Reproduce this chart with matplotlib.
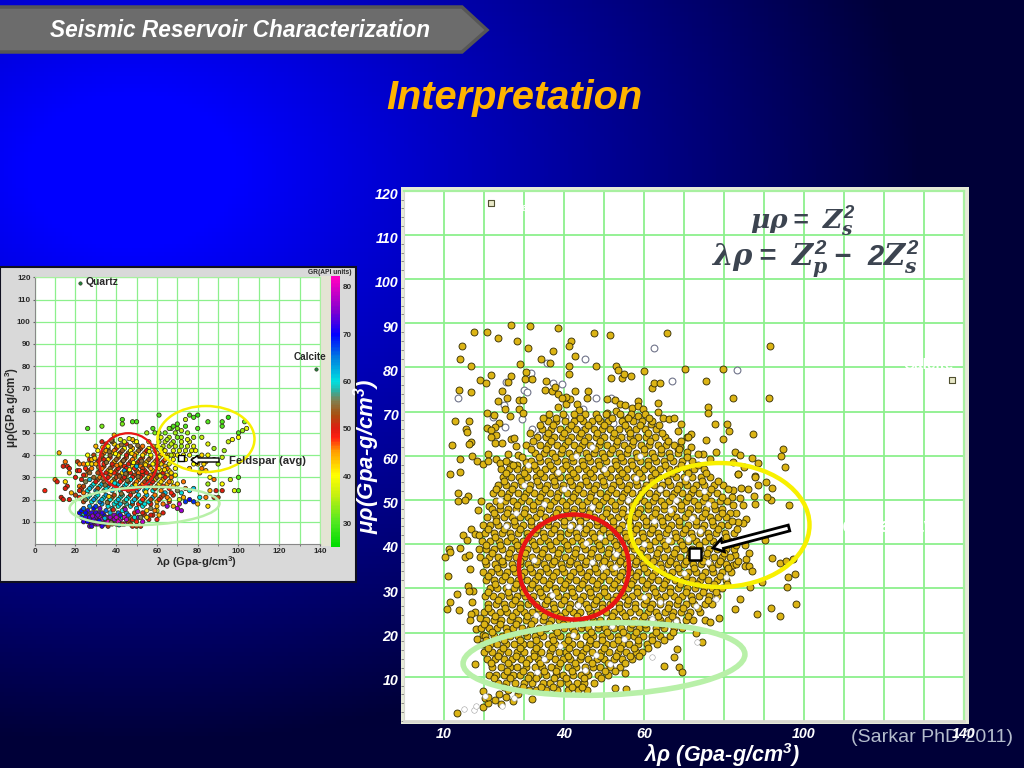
import numpy as np
import matplotlib
matplotlib.use('Agg')
from matplotlib import pyplot as plt
from matplotlib.colors import LinearSegmentedColormap, Normalize
from matplotlib.patches import Ellipse, Polygon, Rectangle, FancyArrow
from matplotlib.transforms import ScaledTranslation

plt.rcParams['font.family'] = ['Liberation Sans', 'DejaVu Sans']
plt.rcParams['mathtext.fontset'] = 'custom'
plt.rcParams['mathtext.rm'] = 'Liberation Sans:italic:bold'
plt.rcParams['mathtext.bf'] = 'Liberation Sans:bold'
plt.rcParams['mathtext.it'] = 'DejaVu Serif:italic:bold'

# big plot, scattered points read one by one (lambda-rho, mu-rho)
top_points = [(17.5,88),(20.7,88),(23.4,86.7),(26.8,89.6),(31.5,89.3),(38.4,89),(47.5,87.8),(51.5,87.4),(65.8,87.8),
    (14.5,84.8),(13.9,82),(16.8,80.4),(28.3,86),(30.9,84.3),(37.3,83.7),(41.7,85.9),(41.2,84.9),(42.7,82.6),(34.3,81.9),
    (36.5,81.1),(41.2,80.3),(41.2,78.6),(47.9,80.4),(52.9,80.4),(53.4,79.5),(60.1,79.2),(70.2,79.6),(29.1,80.7),(30.5,79),
    (30.2,77.3),(32.1,77.3),(26.8,78.1),(21.7,78.3),(19.1,77.2),(20.5,76.4),(13.7,75),(16.8,74.4),(24.4,74.7),(25.9,76.6),
    (51.8,77.6),(54.5,77.6),(55,78.5),(56.8,78.1),(61.9,75.4),(62.6,76.4),(63.9,76.4),(35.6,77),(35.2,75),(37,74.7),(37.8,75.5),
    (38.6,74.1),(42.8,74.7),(46.1,74.7),(45.7,73),(23.6,72.4),(25.8,73.1),(28.7,72.7),(29.7,72.7),(25.2,70.5),(28.7,70.5),
    (29.7,69.6),(26.4,69),(20.8,69.6),(22.5,69.2),(12.7,67.8),(16.2,67.8),(23.7,67.4),(20.8,66.4),(22.7,66.6),(15.4,66),
    (15.8,65.3),(16.8,63.1),(16.2,62.6),(11.9,62.4),(14.1,59.3),(17,60),(18.2,58.9),(19.7,58.2),(11.4,55.8),(14.1,56.4),
    (21.8,65.8),(22.9,64.7),(21.7,64.3),(22.7,62.8),(24.4,63),(26.7,63.7),(27.6,64.1),(28,62.2),(25.9,60.5),(28.4,60.1),
    (21.1,60.5),(23,59.2),(21.1,58.9),(24,58.4),(26.5,58.2),(28.2,58),(30.4,58.6),(30.2,57),
    (38.6,71.1),(40.4,71.8),(41.5,72.8),(40.4,73.3),(39.4,73),(43.3,71.7),(43.7,70.3),(50.8,72.8),(52.7,72.6),(54,71.8),
    (55.2,71.4),(56.9,70.8),(58.4,72.4),(58.4,71.2),(59.7,70.6),(63.6,71.9),(63.4,69.9),(64.8,68.5),(66.2,68.4),(67.5,68.5),
    (69.2,67.2),(68.6,65.6),(70.8,64.3),(53,70.1),(50.8,69.6),(55,68.2),(56.3,68.7),(58.4,69),(61.7,67.3)]
right_points = [(91.5,84.9),(79.8,79.6),(75.6,76.9),(82.2,73),(91.3,73.1),(75.9,71.1),(75.9,69.8),(77.7,67.2),(80.7,67.2),
    (81.3,65.6),(87.3,65),(71.8,65),(71.1,64.3),(75.6,63.6),(79.7,63.9),(94.8,61.6),(94.3,59.9),(95.2,57.5),(82.7,60.9),(84,60.1),
    (86.9,59.4),(88.6,58.4),(85.1,57.5),(82.3,58.6),(83.4,55.8),(87.7,55.5),(77.9,60.9),(76.5,59.2),(74.8,60.4),(73.6,60.5),
    (71.7,62),(69,62),(68.6,61.6),(70.7,60.9),(96.3,48.9),(92,36.9),(94,35.7),(95.5,36.2),(97.3,36.6),(97.7,33.3),(96.1,32.5),
    (95.8,30.4),(98.1,26.5),(91.8,25.5),(94,23.7),(88.3,24.3),(89.6,31.5),(86.4,30.4),(82.7,25.4),(83.9,27.6),(78.7,23.4),(75.3,22.8),
    (76.5,22.4),(74.6,17.8),(73,19.8),(68.2,16.2),(67.6,14.4),(65,12.4),(68.8,12.3),(69.6,11),(85.5,36.6),(86.2,37.9),(85.2,35.1),
    (86.3,35),(86.9,33.9),(82.7,37.5),(82.3,35.3),(80.7,35),(90.3,40.9),(85.3,39.8),(87.7,49.2),(91.7,50.1),(90.7,50.7),(91.9,52.6),
    (90.5,54),(88.4,53.4),(87.7,55.3),(87.5,50.9),(85.9,52.4),(84.2,52.6),(84,50.5),(84.8,48.9),(85.4,45.8),(84.8,44.7),(83.6,45.1),
    (82.9,47),(81.5,47.1),(81.9,50.7),(82.2,52.3),(83.4,55.9)]
left_points = [(13.5,51.5),(16.1,50.9),(13.5,49.8),(15.2,50),(19.2,49.8),(18.6,47.7),(21.3,48.6),(16.8,43.4),(14.7,42.1),(15.8,41),
    (17.8,42.3),(18.7,42.1),(13.9,39.2),(11.2,38.8),(11.5,38.2),(10.3,37.1),(15.2,37),(16.2,37.6),(16.5,34.3),(11,32.9),(16.1,30.5),
    (17.3,29.5),(16.2,29.5),(13.2,28.8),(16.9,27),(11.6,27),(10.7,25.4),(13.7,25.2),(17.8,24.6),(16.7,24.3),(16.5,22.8),(19,23.4),
    (20.2,22),(17.9,20.9),(19.7,19.4),(18.2,18.5),(17.7,12.8),(19.7,6.8),(13.2,1.9),(19.8,3.2),(21.1,4),(20.3,5.1),(22.7,4.7),
    (27.2,4.6),(32,4.9),(21,5.3),(52.7,7.4),(55.5,7.3),(55.2,10.9),(23.7,6),(25.5,5.5),(28.5,6.2),(24.2,3.9)]

# dense part of the cloud, row by row: (mu-rho, [lambda-rho ...])
lower_rows = [
    (6.9, [26.1,28.4,31.2,33,35.6,38.3,40.9,43.4,45.7]),
    (8.6, [23.6,25.4,27.8,29.9,32.1,34.7,36.4,38.9,41,43.3,45.1,47.6]),
    (10.4, [21.2,23.1,25,27.3,29.1,31.4,33.6,35.5,37.9,39.7,42.2,44.3,46,48.4,50.9]),
    (12.1, [22,24.2,26.4,28.2,30.5,32.7,34.4,36.8,38.6,40.9,43,45.2,47.3,49.1,51.6,53.9]),
    (13.9, [20.8,22.7,24.9,27.1,29.3,31.2,33.4,35.6,37.7,39.8,41.6,43.9,46.1,48.2,50,52.4,54.6,57.1]),
    (15.6, [20.1,22,24.1,26,28.3,30.1,32.5,34.3,36.6,38.7,40.5,42.9,44.8,47,49.2,51.3,53.5,55.4,57.9,59.5]),
    (17.4, [19.4,21.5,23.3,25.6,27.4,29.7,31.6,33.7,35.9,37.8,40,42.1,44,46.3,48.1,50.4,52.2,54.5,56.3,58.6,60.7,63.2]),
    (19.2, [20.3,22.4,24.4,26.5,28.6,30.7,32.8,34.8,36.9,39.1,41.2,43.1,45.4,47.3,49.5,51.6,53.4,55.7,57.5,59.8,61.9,64,66.4]),
    (21, [19.2,21.3,23.2,25.4,27.3,29.5,31.5,33.7,35.6,37.8,39.9,42,44.2,46,48.4,50.3,52.5,54.3,56.6,58.7,60.6,62.9,65.1,67.5,69.4]),
    (22.8, [20.4,22.5,24.3,26.4,28.5,30.6,32.4,34.7,36.7,38.8,40.8,43,45,47.2,49.1,51.4,53.3,55.5,57.6,59.5,61.8,63.9,66,68.1,70.6,72.3]),
    (24.6, [20,21.8,23.9,25.7,27.9,29.9,32,33.9,36,38.1,40.2,42.3,44.1,46.4,48.3,50.5,52.4,54.6,56.5,58.8,60.9,63,65.2,67.2,69.3,71.5,74]),
    (26.4, [20.9,23,25,27,29,31.1,33.1,35.2,37.2,39.3,41.4,43.4,45.5,47.5,49.6,51.5,53.7,55.7,57.8,59.9,62,64.1,66.2,68.3,70.4,72.6,75.2,77]),
    (28.2, [20.3,22.2,24.2,26.2,28.2,30.3,32.3,34.4,36.4,38.5,40.6,42.6,44.7,46.7,48.8,50.8,52.9,54.9,57,59.1,61.1,63.2,65.3,67.4,69.5,71.7,73.8,76.2,78.3]),
]
middle_rows = [
    (30, [21.4,23.3,25.4,27.4,29.5,31.5,33.6,35.6,37.7,39.7,41.8,43.8,45.9,47.9,50,52,54.1,56.1,58.2,60.2,62.3,64.4,66.5,68.6,70.7,72.8,75,77.1,79.4]),
    (31.8, [20.4,22.5,24.5,26.6,28.6,30.7,32.7,34.8,36.8,38.9,40.9,43,45,47.1,49.1,51.2,53.2,55.3,57.3,59.4,61.5,63.5,65.6,67.7,69.8,71.9,74,76.1,78.3,80.4]),
    (33.6, [19.7,21.7,23.7,25.8,27.8,29.9,31.9,34,36,38.1,40.1,42.2,44.2,46.3,48.3,50.4,52.4,54.5,56.5,58.6,60.7,62.7,64.8,66.9,69,71,73.1,75.2,77.3,79.5,81.7]),
    (35.4, [20.6,22.8,24.8,26.9,28.9,31,33,35.1,37.1,39.2,41.2,43.3,45.3,47.4,49.4,51.5,53.5,55.6,57.7,59.7,61.8,63.9,65.9,68,70.1,72.2,74.3,76.4,78.5,80.6,83]),
    (37.2, [19,21.2,23.4,25.9,27.9,30,32,34.1,36.1,38.2,40.2,42.3,44.3,46.4,48.4,50.5,52.6,54.6,56.7,58.7,60.8,62.9,64.9,67,69.1,71.2,73.3,75.4,77.5,79.6,81.6]),
    (39, [18.7,20.6,22.5,24.6,26.7,28.8,30.8,32.9,34.9,37,39,41.1,43.1,45.2,47.2,49.3,51.3,53.4,55.4,57.5,59.6,61.6,63.7,65.8,67.9,69.9,72,74.1,76.2,78.3,80.4,82.6]),
    (40.8, [19.5,21.6,23.7,25.7,27.8,29.8,31.9,33.9,36,38,40.1,42.1,44.2,46.2,48.3,50.3,52.4,54.4,56.5,58.5,60.6,62.7,64.8,66.8,68.9,71,73.1,75.2,77.3,79.4,81.2]),
    (42.6, [20.2,22.5,24.5,26.6,28.6,30.7,32.7,34.8,36.8,38.9,40.9,43,45,47.1,49.1,51.2,53.2,55.3,57.3,59.4,61.5,63.5,65.6,67.7,69.8,71.8,73.9,76,78.1,80.2,82.4]),
    (44.4, [19.8,21.6,23.6,25.7,27.7,29.8,31.8,33.9,35.9,38,40,42.1,44.1,46.2,48.2,50.3,52.3,54.4,56.4,58.5,60.6,62.6,64.7,66.8,68.8,70.9,73,75.1,77.2,79.3,81.1]),
    (46.2, [20.8,22.9,24.9,27,29,31.1,33.1,35.2,37.2,39.3,41.3,43.4,45.4,47.5,49.5,51.6,53.6,55.7,57.8,59.8,61.9,64,66,68.1,70.2,72.3,74.4,76.5,78.6,80.5]),
    (48, [22,24,26.1,28.1,30.2,32.2,34.3,36.3,38.4,40.4,42.5,44.5,46.6,48.6,50.7,52.7,54.8,56.9,58.9,61,63.1,65.1,67.2,69.3,71.4,73.5,75.6,77.7,79.6]),
    (49.8, [23.1,25.2,27.2,29.3,31.3,33.4,35.4,37.5,39.5,41.6,43.6,45.7,47.7,49.8,51.8,53.9,56,58,60.1,62.2,64.2,66.3,68.4,70.5,72.6,74.7,76.8,78.9,80.7]),
]
upper_rows = [
    (51.6, [22.2,24.3,26.3,28.4,30.4,32.5,34.5,36.6,38.6,40.7,42.7,44.8,46.8,48.9,51,53,55.1,57.1,59.2,61.3,63.3,65.4,67.5,69.6,71.7,73.8,75.9,78.2]),
    (53.4, [23.4,25.5,27.5,29.6,31.6,33.7,35.7,37.8,39.8,41.9,43.9,46,48,50.1,52.2,54.2,56.3,58.3,60.4,62.5,64.5,66.6,68.7,70.8,72.9,75,77.4,79.8]),
    (55.2, [24.7,26.7,28.8,30.8,32.9,34.9,37,39,41.1,43.1,45.2,47.2,49.3,51.4,53.4,55.5,57.5,59.6,61.7,63.7,65.8,67.9,70,72.1,74.2,76.6]),
    (57, [24.2,26.2,28.3,30.9,33.1,35.2,37.3,39.4,41.4,43.5,45.5,47.6,49.7,51.7,53.8,55.8,57.9,60,62,64.1,66.2,68.3,70.4,72.6,75.1]),
    (58.8, [25.4,31.8,34,36.1,38.2,40.3,42.3,44.4,46.5,48.5,50.6,52.7,54.7,56.8,58.9,60.9,63,65.1,67.2,69.4,71.9]),
    (60.6, [32.8,35,37.1,39.2,41.3,43.3,45.4,47.5,49.6,51.6,53.7,55.8,57.9,60,62.1,64.2,66.3,68.6]),
    (62.4, [30.5,33.9,36.1,38.2,40.3,42.4,44.5,46.6,48.7,50.8,52.9,55,57.1,59.2,61.3,63.4,65.6,67.5]),
    (64.2, [33.2,35.4,37.4,39.5,41.7,43.8,45.9,48,50.1,52.2,54.3,56.4,58.5,60.6,62.7,65.3]),
    (66, [34.6,36.7,38.9,41,43.1,45.2,47.4,49.5,51.5,53.7,56,58.1,60.3,62.9]),
    (67.8, [35.9,38,40.2,42.6,44.7,46.9,49,50.9,54.4,57.2,59.4,62.1]),
    (69.4, [36.3,39.7,42.5,45.2,47.9,50.6,53.9,56.7,60.2]),
]
# points that sit between those rows
infill_low = [
    (7.7, [24.9,29.7,34.3,37.2,42.1,44.6]),
    (9.6, [22.4,26.6,30.9,33.1,37.6,40.4,44.9,49.2]),
    (11.2, [25.8,29.8,34.9,38,41.9,45.6,50.2,52.7]),
    (13, [21.7,26,30.4,34.1,38.9,42.7,47.1,51,55.3]),
    (14.8, [23.5,28,32.6,36.2,40.9,44.3,49,53,56.6,58.8]),
    (16.5, [21,24.8,29,33,36.9,41.3,45.5,49.9,53.9,57.4,61]),
    (18.3, [20.6,25,28.9,32.9,37.2,41.1,46.4,49.5,53.5,58.4,62.1,65.1]),
    (20.1, [21.9,25.8,30.2,34,38.2,42.6,46.7,50.7,54.8,58,62.9,67.2]),
    (21.9, [20,24,28,31.7,36.3,39.8,44.4,48.5,52.1,56.9,60.2,64.5,68.3]),
    (23.7, [22.7,26.9,30.8,35.1,38.9,43.3,47.1,51.9,55.2,59.9,63.5,67.1,71]),
    (25.5, [21.1,25.3,29,33.4,37.6,41.2,45.9,49.4,53.8,57.7,61.6,66,69.8,73.4]),
    (27.3, [23.6,27.7,31.8,35.7,40,43.9,48.1,52.3,55.9,60.4,64,68.4,72,75.9]),
    (29.1, [21,25.9,29.7,34,37.9,42.1,46.4,50.1,54.6,58.3,62.7,66.6,70.6,74.8,78]),
]
infill_mid = [
    (30.9, [22.8,27.9,32,36.2,40.3,44.5,48.2,52.6,56.8,60.7,64.9,68.9,73.2,77.6,80.8]),
    (32.7, [21,25.2,29.3,33.5,37.3,41.6,45.7,49.8,53.9,58,62.1,66.2,70.4,74.6,79]),
    (34.5, [23.2,27.3,31.4,35.4,39.6,43.7,47.8,52,56,60.1,64.3,68.4,72.6,76.9,81]),
    (36.3, [20.3,24.5,29,33.2,37.5,41.5,45.6,49.9,53.9,58.1,62.3,66.4,70.6,74.8,79.1,83.5]),
    (38.1, [22,26.2,30.3,34.5,38.6,42.7,46.8,51,55,59.1,63.2,67.4,71.6,75.7,80]),
    (39.9, [20.4,24.1,28.3,32.4,36.6,40.7,44.7,48.8,53,57.1,61.2,65.3,69.5,73.7,77.9,83.1]),
    (41.7, [22.8,26.8,31,35.1,39.1,43.3,47.4,51.5,55.6,59.7,63.8,68,72.1,76.3,80.5]),
    (43.5, [21,25,29.1,33.2,37.4,41.4,45.5,49.7,53.7,57.9,62,66.1,70.3,74.4,78.6,83.2]),
    (45.3, [23.1,27.6,31.7,35.9,39.9,44,48.2,52.3,56.3,60.5,64.6,68.8,72.9,77.1,81.9]),
    (47.1, [22.4,25.7,29.9,34,38.1,42.2,46.3,50.4,54.5,58.6,62.7,66.8,71,75.2,79.5]),
    (48.9, [24.1,28.2,32.3,36.4,40.5,44.6,48.7,52.8,56.9,61,65.1,69.3,73.4,77.5,82.2]),
    (50.7, [25.8,30,34.1,38.2,42.3,46.4,50.5,54.6,58.7,62.8,66.9,71,75.2,79.6]),
]
infill_up = [
    (52.5, [23,27.1,31.2,35.3,39.4,43.5,47.6,51.7,55.8,59.9,64,68.2,72.3,76.7,81]),
    (54.3, [24.9,29.2,33.3,37.4,41.5,45.6,49.7,53.8,57.9,62,66.1,70.2,74.4,78.5]),
    (56.1, [25.5,30,34.1,38.2,42.3,46.4,50.5,54.6,58.7,62.8,67,71.1,75.6]),
    (57.9, [27.3,32.4,36.5,40.6,44.7,48.8,52.9,57,61.1,65.2,69.3,73.6]),
    (59.7, [29.5,33.7,37.8,41.9,46,50.1,54.2,58.3,62.4,66.5,70.8]),
    (61.5, [31.8,35.5,39.6,43.7,47.8,51.9,56,60.1,64.3,68.7]),
    (63.3, [32.2,36.8,40.9,45,49.1,53.2,57.3,61.4,66.1,69.3]),
    (65.1, [31.6,35.9,40.1,44.2,48.3,52.4,56.5,60.9,64.4]),
    (66.9, [33.9,37.2,41.8,45.9,50,55.3,58.9,63.8]),
    (68.6, [34.8,37.9,44,48.4,52,56,61.2]),
]
white_points = [(13.4,73),(25.6,76.7),(31.8,78.8),(35.7,81),(37.2,76.4),(39.6,76.3),(45.2,81.9),(62.5,84.5),(67,77),(83.2,79.4),
    (47.9,73.1),(51.8,73.1),(29.9,74.8),(30.7,74.5),(25.1,71.6),(22.2,68.7),(25.2,66.5),(29.5,68.3),(44.7,70.5),(40.2,68.7),(50.8,68.5),
    (52.3,67.5),(32,66),(33.7,64.7),(36.5,63.7),(55.7,64.3),(58.1,64),(44.8,65.8),(49.4,64.7),(43.6,26.2),(32.6,36.4),(52.7,34.9),(49.8,34.9),
    (46.9,36),(41.5,44),(43.7,43.8),(45.5,40.2),(49,41.7),(53,37.7),(42.3,19.4),(33.2,11),(45.2,11.5),(51.5,12.9),(62,14.5),(73.3,17.9),
    (80.6,32.6),(15,2.8),(17.5,2.5),(18,3.4),(24.5,3.3),(27.4,5.2),(20.3,5.6),(76,36),(72,46),(68,50),(75,52),(66,41),(62.5,45.2),(70,33.5),
    (64,27),(58,22.4),(55,18.6),(60,28),(38.5,56.4),(43,60),(28,47),(25.4,44.2),(24,50),(30,53.4),(35,49),(40,52.5),(50,57),(56,50),(47,48.5),
    (78,27.7),(71,41.2),(74,43),(33,24),(37,28.5),(26,30.5),(60,40),(63,34.5),(66.5,47.7),(70.5,55),(64,52.5),(58,55),(59,60),(47,62),(31,58),
    (56,44),(76,49),(62,23),(52,21.5),(48,15),(68,22.6),(73,26),(39,17),(35,14)]
feldspar_main = (72.75, 37.8)
quartz_main = (21.75, 117.2)
calcite_main = (137, 77.2)

main_x_ticks = [0,10,20,30,40,50,60,70,80,90,100,110,120,130,140]
main_x_labels = ['','10','','','40','','60','','','','100','','','','140']
main_y_ticks = [10,20,30,40,50,60,70,80,90,100,110,120]

# small plot, points as (lambda-rho, mu-rho, GR)
low_band = [(26,13,72),(28,11,70),(30,9,76),(27,10,71),(24,13,60),(25,11,70),(29,13,72),(31,11,75),(33,9,74),(32,12,78),(35,10,76),
    (34,13,70),(36,8,52),(38,11,78),(40,9,76),(37,14,62),(39,13,75),(42,11,78),(44,9,80),(41,14,66),(43,12,60),(46,10,52),(48,8,50),
    (45,14,64),(47,12,56),(50,10,48),(52,8,50),(49,14,50),(51,12,76),(53,10,78),(54,13,52),(56,11,50),(55,15,42),(58,13,50),(60,11,48),
    (57,16,56),(60,15,38),(63,14,50),(65,17,76),(70,16,78),(71,18,80),(72,15,76),(68,17,44),(74,19,68),(76,20,70),(78,19,68),(80,18,44),
    (85,17,42),(22,14,70),(23,12,68),(26,15,72),(29,16,70),(32,16,74),(35,15,66),(38,16,62),(41,17,60),(44,16,54),(47,17,60),(50,16,62),
    (53,17,60),(24,10,72),(27,8,74),(30,12,74),(33,14,72),(36,12,76),(43,15,60),(28,14,72),(25,14,70),(31,14,73)]
low_extra = [(23,15,70),(25,12,72),(26,10,70),(27,12,72),(28,9,72),(29,10,74),(30,14,72),(31,9,76),(32,10,78),(33,11,76),(34,9,70),(35,12,78),
    (36,10,80),(37,12,76),(38,9,50),(39,11,76),(40,12,78),(41,10,80),(42,13,72),(43,9,50),(44,12,80),(45,11,78),(46,13,66),(47,9,52),(48,11,50),
    (49,12,60),(50,8,52),(52,12,56),(53,14,50),(55,12,42),(57,13,50),(59,15,46),(61,13,44),(24,16,66),(27,17,64),(30,17,68),(33,18,64),(36,17,60),
    (39,18,60),(42,18,62),(45,18,58),(48,18,52),(51,18,48),(54,18,60),(57,18,50),(60,17,44),(63,18,46),(66,19,50),(29,11,73),(31,13,74),(28,8,72),
    (30,10,75),(33,8,72)]
mid_band = [(22,21,48),(24,19,52),(26,21,60),(28,19,60),(30,21,62),(32,19,66),(34,21,60),(36,19,62),(38,21,54),(40,19,60),(42,21,60),
    (44,19,56),(46,21,60),(48,19,62),(50,21,52),(52,19,60),(54,21,46),(56,19,60),(58,21,62),(60,19,44),(62,21,48),(64,23,62),(66,20,42),
    (68,22,50),(70,24,56),(72,23,60),(74,25,46),(76,24,60),(78,25,62),(26,24,60),(28,26,62),(30,24,64),(32,26,60),(34,24,56),(36,26,62),
    (38,24,62),(40,26,50),(42,24,60),(44,26,62),(46,24,52),(48,26,60),(50,24,64),(52,26,48),(54,24,62),(56,26,50),(58,24,60),(60,26,54),
    (62,24,46),(66,25,48),(24,23,46),(23,25,50),(25,28,56),(27,29,62),(68,26,44),(71,20,36),(73,21,44),(81,21,60),(84,21,46),(88,21,52),(86,24,44)]
mid_extra = [(25,20,56),(27,22,60),(29,20,64),(31,22,60),(33,20,62),(35,22,64),(37,20,60),(39,22,52),(41,20,62),(43,22,58),(45,20,60),(47,22,50),
    (49,20,62),(51,22,60),(53,20,48),(55,22,62),(57,20,52),(59,22,46),(61,20,50),(63,22,52),(65,21,46),(67,23,48),(27,25,62),(29,27,60),(31,25,52),
    (33,27,62),(35,25,60),(37,27,50),(39,25,60),(41,27,62),(43,25,54),(45,27,60),(47,25,62),(49,27,52),(51,25,60),(53,27,46),(55,25,60),(57,27,48),
    (59,25,52),(61,27,42),(63,26,48),(65,27,44),(67,28,40),(70,27,42),(73,28,46),(24,26,52),(22,24,50),(20,22,52)]
core_band = [(30,28,50),(32,30,46),(34,28,54),(36,30,50),(38,28,44),(40,30,52),(42,28,48),(44,30,50),(46,28,54),(48,30,49),(50,28,46),
    (52,30,50),(54,28,52),(56,30,44),(58,28,50),(60,30,54),(62,28,42),(64,30,50),(66,28,46),(31,32,52),(33,34,46),(35,32,50),(37,34,54),
    (39,32,48),(41,34,50),(43,32,42),(45,34,49),(47,32,50),(49,34,48),(51,32,46),(53,34,52),(55,32,50),(57,34,44),(59,32,54),(61,34,42),
    (63,32,50),(65,34,46),(67,32,42),(69,34,40),(30,36,44),(32,38,54),(34,36,48),(36,38,42),(38,36,50),(40,38,54),(42,36,44),(44,38,49),
    (46,36,50),(48,38,46),(50,36,52),(52,38,48),(54,36,44),(56,38,54),(58,36,40),(60,38,52),(62,36,42),(64,38,46),(66,36,38),(68,38,40),
    (33,40,52),(35,42,44),(37,40,54),(39,42,46),(41,40,42),(43,42,54),(45,40,50),(47,42,40),(49,40,46),(51,42,54),(53,40,42),(55,42,50),
    (57,40,40),(59,42,44),(36,44,40),(38,46,54),(41,44,42),(44,46,38),(47,44,54),(50,46,40),(53,44,46),(56,46,42),(34,38,50),(28,34,46),
    (26,36,40),(27,32,54),(24,31,50),(25,34,48),(22,33,48),(28,38,44),(31,42,40),(33,46,50),(44,33,64),(50,35,62),(47,29,60)]
core_extra = [(31,29,54),(33,31,48),(35,29,50),(37,31,46),(39,29,54),(41,31,49),(43,29,52),(45,31,46),(47,29,50),(49,31,52),(51,29,44),(53,31,50),
    (55,29,54),(57,31,46),(59,29,42),(61,31,50),(63,29,44),(65,31,42),(67,30,46),(69,31,40),(32,33,50),(34,35,52),(36,33,44),(38,35,48),(40,33,52),
    (42,35,54),(44,35,48),(46,33,50),(48,35,42),(50,33,54),(52,35,46),(54,33,48),(56,35,52),(58,33,42),(60,35,46),(62,33,40),(64,35,44),(66,33,40),
    (31,37,50),(33,39,42),(35,37,54),(37,39,50),(39,37,44),(41,39,52),(43,37,50),(45,39,46),(47,37,54),(49,39,42),(51,37,48),(53,39,52),(55,37,42),
    (57,39,46),(59,37,44),(61,39,38),(63,37,48),(65,39,40),(67,40,36),(34,41,46),(36,43,54),(38,41,42),(40,43,50),(42,41,52),(44,43,40),(46,41,54),
    (48,43,44),(50,41,42),(52,43,52),(54,41,46),(56,43,40),(58,44,40),(60,41,42),(62,43,36),(39,45,42),(42,47,36),(45,45,50),(48,47,44),(35,45,48),
    (26,33,52),(29,30,54),(28,36,42),(23,29,50),(25,31,46),(29,40,52),(27,38,48),(22,36,46),(30,44,44)]
core_top = [(33.5,29.6,55),(37.4,32.7,42),(41.6,30.5,54),(46.5,33.4,40),(50.7,30.3,55),(54.4,35.6,42),(58.6,31.3,54),(35.2,36.7,55),(39.7,40.6,40),
    (43.6,37.5,55),(47.7,40.7,42),(52.4,37.3,55),(56.2,41.6,38),(36.6,41.5,55),(40.3,35.4,46),(44.7,31.6,55),(48.5,36.6,40),(52.7,32.6,48),(60.5,36.7,55),
    (63.7,33.4,42),(33.4,43.5,42),(37.6,46.6,55),(42.5,44.6,55),(46.3,47.4,38),(50.6,44.3,55),(31.4,34.6,55),(29.5,38.6,42),(57.3,29.4,55),(61.5,30.6,40),
    (45.4,28.6,55),(39.3,27.4,60),(34.6,26.5,55),(49.6,26.6,42),(55.7,27.6,62),(42.5,22.6,55),(36.4,21.4,42),(30.6,23.4,58),(48.4,23.5,55),(54.5,23.4,42),
    (35.6,18.6,55),(44.4,15.6,76),(38.6,15.4,50),(50.6,14.6,76),(41.4,8.6,62),(34.4,11.6,62),(37.5,9.6,56),(28.4,12.6,76),(31.6,10.4,70)]
right_band = [(62,48,38),(64,46,36),(66,44,34),(68,42,38),(70,40,40),(72,44,34),(74,42,36),(76,40,40),(78,38,42),(80,36,42),(82,34,46),
    (64,50,32),(66,48,36),(68,46,34),(70,48,32),(72,46,36),(74,38,40),(76,46,36),(78,44,38),(60,44,38),(61,46,34),(63,42,42),(65,40,44),
    (67,52,30),(70,52,32),(72,51,36),(75,50,34),(74,53,30),(78,48,34),(80,52,30),(82,48,36),(85,45,38),(85,40,40),(88,38,36),(90,36,34),
    (92,39,36),(93,42,34),(95,46,36),(97,47,40),(100,50,30),(102,51,34),(104,52,38),(103,55,32),(100,48,40),(92,53,30),(95,57,28),
    (92,55,30),(85,55,30),(80,58,28),(78,57,30),(76,58,30),(74,56,36),(70,54,30),(68,53,30),(66,52,32),(88,43,34),(84,33,44),(86,30,40),
    (88,29,46),(92,27,40),(96,29,36),(98,24,38),(100,24,30),(100,30,30),(92,24,50),(89,24,50),(85,27,34),(76,34,44),(78,36,40),(90,21,52),
    (63,44,36),(65,47,34),(67,45,36),(69,44,36),(71,42,38),(73,40,40),(75,44,36),(62,40,44),(64,42,40),(66,40,42),(68,40,42),(61,50,32),
    (69,50,34),(72,48,34),(75,47,38),(79,42,40),(82,40,42),(84,37,44),(77,42,38),(80,39,44),(83,36,42),(81,32,44)]
left_sparse = [(5,24,48),(10,29,46),(11,28,50),(12,41,44),(15,37,46),(14,35,50),(16,35,50),(17,34,50),(17,32,44),(15,28,42),(16,26,50),
    (15,25,50),(13,21,50),(14,20,50),(17,20,50),(21,37,52),(21,33,50),(20,30,50),(18,23,44),(24,36,46),(26,52,30),(33,53,32),(43,56,30),
    (43,54,32),(48,55,30),(50,55,30),(61,58,30),(58,52,30),(39,49,44),(38,47,32),(49,46,38),(55,50,34),(59,50,32),(26,40,40),(22,26,46)]
small_ticks_x = [0,20,40,60,80,100,120,140]
small_ticks_y = [10,20,30,40,50,60,70,80,90,100,110,120]
colorbar_ticks = [30,40,50,60,70,80]
gr_anchors = [(25,'#00dc00'),(30,'#50e820'),(36,'#c8f010'),(40,'#ffff00'),(45,'#ffa000'),(48,'#ff2010'),(50,'#e01c10'),(53,'#a85010'),
    (56,'#808050'),(58,'#30b0a0'),(60,'#00e0e0'),(65,'#0080e0'),(70,'#0000ff'),(75,'#8000d0'),(82,'#ff00c0')]

fig = plt.figure(figsize=(10.24, 7.68), dpi=100)

def px_axes(left, top, right, bottom, z):
    return fig.add_axes([left/1024, 1-bottom/768, (right-left)/1024, (bottom-top)/768], zorder=z)

# slide background and all pixel placed things
bg = px_axes(0, 0, 1024, 768, 0)
bg.set_xlim(0, 1024)
bg.set_ylim(768, 0)
bg.axis('off')
xx, yy = np.meshgrid(np.linspace(0, 1024, 256), np.linspace(0, 768, 192))
dist = np.sqrt(((xx-130)/880)**2 + ((yy-170)/640)**2)
blue = np.clip(1.12-dist, 0.22, 1)
shade = np.zeros(xx.shape + (3,))
shade[..., 2] = blue
bg.imshow(shade, extent=(0, 1024, 768, 0), aspect='auto', zorder=0)

bg.add_patch(Polygon([(-2,7),(462,7),(487,30),(462,52),(-2,52)], fc='#6c6c6c', ec='#565656', lw=2.5))
bg.text(240, 30.5, 'Seismic Reservoir Characterization', color='white', fontsize=16.3, fontweight='bold', fontstyle='italic', ha='center', va='center')
bg.text(514, 98, 'Interpretation', color='#ffb400', fontsize=28.6, fontweight='bold', fontstyle='italic', ha='center', va='center')
bg.add_patch(Rectangle((0, 267), 356, 315, fc='#d9d9d9', ec='#101020', lw=1.5))
bg.add_patch(Rectangle((320, 276), 11, 270, fc='#e4e4d4', ec='none'))
bg.add_patch(Rectangle((401, 187), 568, 537, fc='#e6ead8', ec='none'))
bg.text(932, 738, '(Sarkar PhD 2011)', color='#b4bccc', fontsize=14, ha='center', va='center')

# big plot
ax = px_axes(404, 190.7, 964, 720.9, 1)
ax.set_xlim(0, 140)
ax.set_ylim(0, 120)
ax.set_facecolor('white')
ax.grid(True, color='#8cf08c', lw=1.3)
ax.set_axisbelow(True)
ax.set_xticks(main_x_ticks)
ax.set_xticklabels(main_x_labels)
ax.set_yticks(main_y_ticks)
ax.set_yticks(np.arange(0, 121, 2), minor=True)
ax.tick_params(which='major', length=0, labelcolor='white', labelsize=10.3, pad=4)
ax.tick_params(which='minor', length=2.5, color='#777777', direction='out')
ax.tick_params(axis='x', pad=4.5)
nudge = ScaledTranslation(0, -2/72, fig.dpi_scale_trans)
for lab in ax.get_xticklabels() + ax.get_yticklabels():
    lab.set_fontweight('bold')
    lab.set_fontstyle('italic')
for lab in ax.get_yticklabels():
    lab.set_transform(lab.get_transform() + nudge)
for s in ['top', 'right']:
    ax.spines[s].set_color('#a8f0a0')
    ax.spines[s].set_linewidth(1.6)
ax.spines['left'].set_color('#d8d8d0')
ax.spines['bottom'].set_color('#d8d8d0')
ax.spines['bottom'].set_linewidth(2)

gold_x, gold_y = [], []
for pts in [top_points, right_points, left_points]:
    gold_x += [p[0] for p in pts]
    gold_y += [p[1] for p in pts]
for rows in [lower_rows, middle_rows, upper_rows, infill_low, infill_mid, infill_up]:
    for y, xs in rows:
        gold_x += xs
        gold_y += [y]*len(xs)
ax.scatter([p[0] for p in white_points][:29], [p[1] for p in white_points][:29], s=24, c='white', edgecolors='#70748a', lw=0.8, zorder=3)
ax.scatter(gold_x, gold_y, s=25, c='#dcb414', edgecolors='#3c3408', lw=0.65, zorder=4)
ax.scatter([p[0] for p in white_points][29:], [p[1] for p in white_points][29:], s=16, c='white', edgecolors='#a0a0a0', lw=0.4, zorder=5)
ax.scatter(*zip(quartz_main, calcite_main), marker='s', s=22, c='#e8e8c8', edgecolors='#505030', lw=0.8, zorder=5)
ax.scatter(*feldspar_main, marker='s', s=70, c='white', edgecolors='black', lw=1.8, zorder=6)
ax.text(30, 116, 'Quartz', color='white', fontsize=8, fontweight='bold', zorder=2, ha='center', va='center')
ax.text(131, 80.5, 'Calcite', color='white', fontsize=11, fontweight='bold', zorder=2, ha='center', va='center')
ax.text(120, 44, 'Feldspar (avg)', color='white', fontsize=15, fontweight='bold', zorder=2, ha='center', va='center')
ax.text(99.75, 113, r'$\mu\rho =\ Z_s^2$', color='#3c4450', fontsize=19, ha='center', va='center', zorder=2)
ax.text(103, 104.6, r'$\lambda\rho =\ Z_p^2 -\ 2Z_s^2$', color='#3c4450', fontsize=21, ha='center', va='center', zorder=2)

# small plot
cmap = LinearSegmentedColormap.from_list('gr', [((g-25)/57, c) for g, c in gr_anchors])
norm = Normalize(25, 82)
sm = px_axes(34.7, 277.3, 320, 544, 1)
sm.set_xlim(0, 140)
sm.set_ylim(0, 120)
sm.grid(True, color='#8cf08c', lw=0.9)
sm.set_axisbelow(True)
sm.set_xticks(small_ticks_x)
sm.set_xticks(np.arange(0, 141, 10), minor=True)
sm.set_yticks(small_ticks_y)
sm.grid(True, which='minor', color='#8cf08c', lw=0.9)
sm.tick_params(which='both', length=1.5, labelsize=5.8, labelcolor='#282828', pad=1.5, color='#666666')
for lab in sm.get_xticklabels() + sm.get_yticklabels():
    lab.set_fontweight('bold')
for s in sm.spines.values():
    s.set_color('#a8f0a0')
sm.spines['left'].set_color('#888888')
sm.spines['bottom'].set_color('#888888')
for pts in [left_sparse, low_band, low_extra, mid_band, mid_extra, right_band, core_extra, core_band, core_top]:
    arr = np.array(pts)
    sm.scatter(arr[:, 0], arr[:, 1], c=arr[:, 2], cmap=cmap, norm=norm, s=9.5, edgecolors='#2c2c14', lw=0.55, zorder=3)
sm.scatter([22, 138], [117.4, 78.6], c='#208040', s=6, edgecolors='#303018', lw=0.4, zorder=3)
sm.scatter([72], [38.6], marker='s', s=22, c='white', edgecolors='black', lw=1, zorder=4)

cb = px_axes(331, 276, 340, 547, 1)
cb.pcolormesh([0, 1], np.linspace(25, 82.3, 200), np.linspace(25, 82.3, 199)[:, None], cmap=cmap, norm=norm)
cb.set_xticks([])
cb.yaxis.tick_right()
cb.set_yticks(colorbar_ticks)
cb.tick_params(length=0, labelsize=5.8, labelcolor='#282828', pad=2)
for lab in cb.get_yticklabels():
    lab.set_fontweight('bold')
for s in cb.spines.values():
    s.set_visible(False)

# overlay with ellipses, arrows and labels
top = px_axes(0, 0, 1024, 768, 5)
top.set_xlim(0, 1024)
top.set_ylim(768, 0)
top.axis('off')
top.patch.set_alpha(0)
top.add_patch(Ellipse((574, 567), 110, 105, fc='none', ec='#e81414', lw=3.2))
top.add_patch(Ellipse((719.5, 525), 180, 124, fc='none', ec='#f8f000', lw=3.2))
top.add_patch(Ellipse((604, 659), 282, 72, angle=-2, fc='none', ec='#b8f0a8', lw=4))
top.add_patch(Ellipse((128.3, 461.7), 58, 57, fc='none', ec='#e81414', lw=1.6))
top.add_patch(Ellipse((206, 439), 97, 66, fc='none', ec='#f8f000', lw=1.8))
top.add_patch(Ellipse((144.5, 506), 150, 38, angle=-2, fc='none', ec='#b8f0a8', lw=1.8))
top.add_patch(FancyArrow(789, 528, -76, 20, width=6, head_width=13, head_length=10, length_includes_head=True, fc='white', ec='black', lw=2))
top.add_patch(FancyArrow(219, 460, -28, 0, width=4, head_width=9, head_length=7, length_includes_head=True, fc='white', ec='black', lw=1))

txt = dict(color='white', fontweight='bold', fontstyle='italic', ha='center', va='center')
top.text(367, 456, 'μρ(Gpa-g/cm$^{3}$)', rotation=90, fontsize=16, **txt)
top.text(722, 755, 'λρ (Gpa-g/cm$^{3}$)', fontsize=15.5, **txt)

dark = dict(color='#282828', fontweight='bold', ha='center', va='center')
top.text(197, 562, 'λρ (Gpa-g/cm$^{\\mathbf{3}}$)', fontsize=8, **dark)
top.text(12, 407, 'μρ(GPa.g/cm$^{\\mathbf{3}}$)', rotation=90, fontsize=8.3, **dark)
top.text(102, 282, 'Quartz', fontsize=7.5, **dark)
top.text(310, 357, 'Calcite', fontsize=7.2, **dark)
top.text(267, 460.5, 'Feldspar (avg)', fontsize=8.1, **dark)
top.text(330, 272, 'GR(API units)', fontsize=4.8, **dark)

fig.savefig('out.png', dpi=100)
